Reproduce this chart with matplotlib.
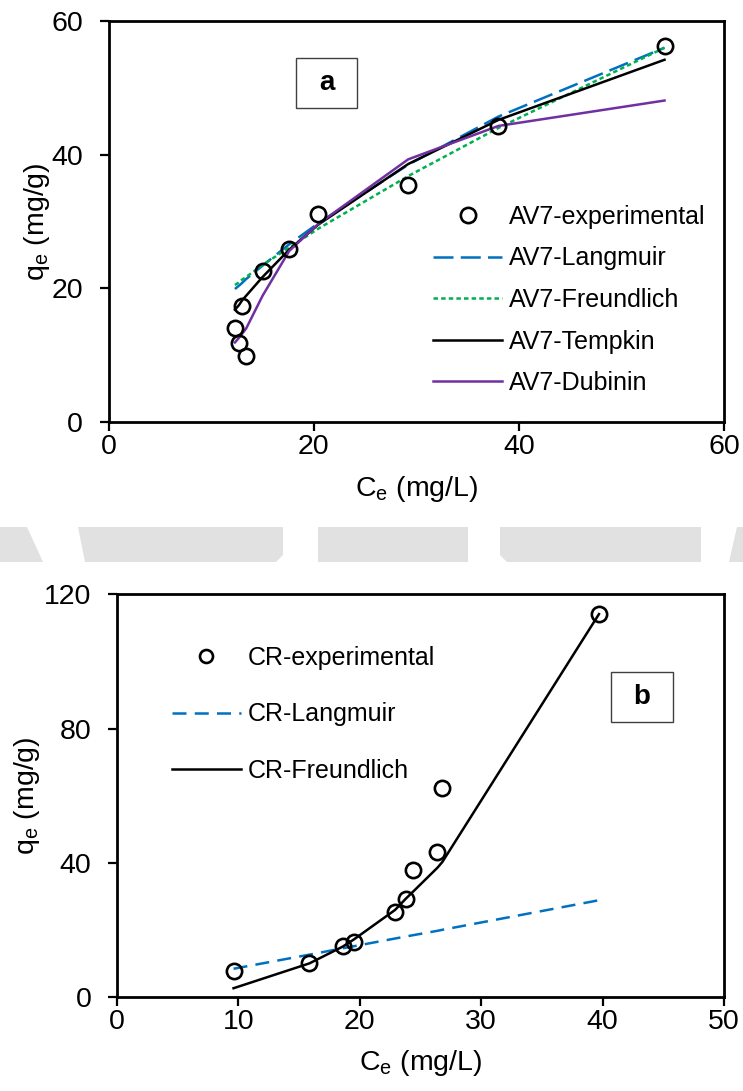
import matplotlib
matplotlib.use("Agg")
import matplotlib.pyplot as plt
from matplotlib.patches import Rectangle, Polygon

plt.rcParams['font.family'] = ['Liberation Sans', 'DejaVu Sans']
plt.rcParams['mathtext.fontset'] = 'custom'
plt.rcParams['mathtext.rm'] = 'Liberation Sans'

# ---- (a) AV7 isotherm ----
ce_av7 = [12.3, 12.7, 13.0, 13.4, 15.0, 17.6, 20.4, 29.2, 38.0, 54.2]
qe_av7 = [14.1, 11.8, 17.4, 9.9, 22.6, 25.9, 31.1, 35.5, 44.3, 56.2]
langmuir_av7 = [19.9, 20.4, 20.8, 21.4, 23.4, 26.6, 29.7, 38.5, 45.7, 56.0]
freundlich_av7 = [20.5, 20.9, 21.3, 21.7, 23.5, 26.1, 28.9, 36.8, 44.0, 56.0]
tempkin_av7 = [16.8, 17.5, 18.2, 18.9, 21.7, 25.8, 29.5, 38.6, 45.2, 54.2]
dubinin_av7 = [11.9, 12.6, 13.2, 14.0, 18.9, 25.6, 29.6, 39.3, 44.3, 48.1]

# ---- (b) CR isotherm ----
ce_cr = [9.6, 15.85, 18.6, 19.5, 22.9, 23.8, 24.4, 26.4, 26.8, 39.7]
qe_cr = [7.9, 10.1, 15.4, 16.6, 25.3, 29.3, 37.9, 43.4, 62.2, 114.1]
langmuir_cr = [8.5, 12.7, 14.6, 15.2, 17.5, 18.1, 18.5, 19.8, 20.1, 28.9]
freundlich_cr = [2.7, 10.1, 15.1, 17.2, 26.0, 29.4, 31.5, 38.6, 40.3, 114.1]

xticks_a = [0, 20, 40, 60]
yticks_a = [0, 20, 40, 60]
xticks_b = [0, 10, 20, 30, 40, 50]
yticks_b = [0, 40, 80, 120]

BLUE = '#0070C0'
GREEN = '#00B050'
PURPLE = '#7030A0'

W, H = 743, 1091
fig = plt.figure(figsize=(W / 100, H / 100), dpi=100)

def frac_box(l, t, r, b):
    return [l / W, 1 - b / H, (r - l) / W, (b - t) / H]

ax_a = fig.add_axes(frac_box(108.8, 21, 724, 422))
ax_b = fig.add_axes(frac_box(117, 594.3, 724, 997.3))

TICK_FS = 20.5
LEG_FS = 18
LW = 1.8

def style_axes(ax, xt, yt):
    for s in ax.spines.values():
        s.set_linewidth(2.0)
        s.set_color('black')
    ax.set_xticks(xt)
    ax.set_yticks(yt)
    ax.tick_params(axis='both', direction='out', length=6.5, width=1.6,
                   labelsize=TICK_FS, colors='black')
    ax.tick_params(axis='x', pad=2)
    ax.tick_params(axis='y', pad=12)

mk = dict(marker='o', ms=11, mfc='none', mec='black', mew=1.9, ls='none')

# panel a
ax_a.plot(ce_av7, qe_av7, label='AV7-experimental', zorder=6, **mk)
l1, = ax_a.plot(ce_av7, langmuir_av7, color=BLUE, lw=LW, label='AV7-Langmuir')
l1.set_dashes([8.0, 2.9])
l2, = ax_a.plot(ce_av7, freundlich_av7, color=GREEN, lw=LW, label='AV7-Freundlich')
l2.set_dashes([1.8, 1.25])
ax_a.plot(ce_av7, tempkin_av7, color='black', lw=LW, label='AV7-Tempkin')
ax_a.plot(ce_av7, dubinin_av7, color=PURPLE, lw=LW, label='AV7-Dubinin')
ax_a.set_xlim(0, 60)
ax_a.set_ylim(0, 60)
style_axes(ax_a, xticks_a, yticks_a)
ax_a.set_xlabel(r'C$_\mathregular{e}$ (mg/L)', fontsize=TICK_FS)
ax_a.set_ylabel(r'q$_\mathregular{e}$ (mg/g)', fontsize=TICK_FS)
ax_a.xaxis.set_label_coords(0.5, -0.13)
ax_a.yaxis.set_label_coords(-0.092, 0.5)
ax_a.legend(loc='upper left', bbox_to_anchor=(0.527, 0.542), frameon=False,
            fontsize=LEG_FS, handlelength=2.76, handletextpad=0.28,
            labelspacing=0.705, borderpad=0, borderaxespad=0)

# label box a
ax_a.add_patch(Rectangle((0.3043, 0.783), 0.0991, 0.1247, transform=ax_a.transAxes,
                         facecolor='white', edgecolor='#404040', lw=1.0, zorder=7))
ax_a.text(0.3043 + 0.0991 / 2, 0.783 + 0.1247 / 2, 'a', transform=ax_a.transAxes,
          ha='center', va='center', fontsize=20, fontweight='bold', zorder=8)

# panel b
ax_b.plot(ce_cr, qe_cr, label='CR-experimental', zorder=6, **mk)
m1, = ax_b.plot(ce_cr, langmuir_cr, color=BLUE, lw=LW, label='CR-Langmuir')
m1.set_dashes([5.6, 3.3])
ax_b.plot(ce_cr, freundlich_cr, color='black', lw=LW, label='CR-Freundlich')
ax_b.set_xlim(0, 50)
ax_b.set_ylim(0, 120)
style_axes(ax_b, xticks_b, yticks_b)
ax_b.set_xlabel(r'C$_\mathregular{e}$ (mg/L)', fontsize=TICK_FS)
ax_b.set_ylabel(r'q$_\mathregular{e}$ (mg/g)', fontsize=TICK_FS)
ax_b.xaxis.set_label_coords(0.5, -0.125)
ax_b.yaxis.set_label_coords(-0.124, 0.5)
ax_b.legend(loc='upper left', bbox_to_anchor=(0.090, 0.872), frameon=False,
            fontsize=LEG_FS, handlelength=2.76, handletextpad=0.28,
            labelspacing=1.30, borderpad=0, borderaxespad=0, markerscale=0.85)

ax_b.add_patch(Rectangle((0.8138, 0.6839), 0.1027, 0.1241, transform=ax_b.transAxes,
                         facecolor='white', edgecolor='#404040', lw=1.0, zorder=7))
ax_b.text(0.8138 + 0.1027 / 2, 0.6839 + 0.1241 / 2, 'b', transform=ax_b.transAxes,
          ha='center', va='center', fontsize=20, fontweight='bold', zorder=8)

# light grey band between the panels
band = [
    [(0, 527), (27, 527), (43, 562), (0, 562)],
    [(78, 527), (283, 527), (283, 555), (276, 562), (85, 562)],
    [(318, 527), (468, 527), (468, 562), (318, 562)],
    [(500, 527), (701, 527), (701, 562), (507, 562), (500, 555)],
    [(737, 527), (743, 527), (743, 562), (729, 562)],
]
for poly in band:
    pts = [(x / W, 1 - y / H) for x, y in poly]
    fig.patches.append(Polygon(pts, closed=True, transform=fig.transFigure,
                               facecolor='#e1e1e1', edgecolor='none', zorder=0))

fig.savefig('out.png', dpi=100)
